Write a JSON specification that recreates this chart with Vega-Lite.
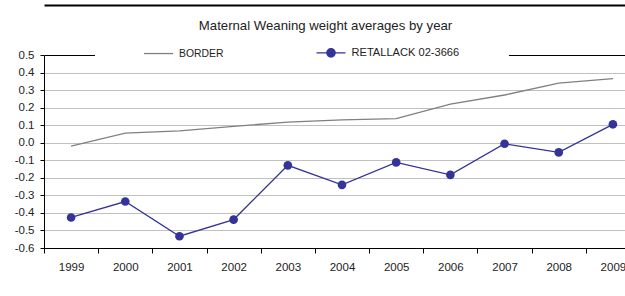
{
  "$schema": "https://vega.github.io/schema/vega-lite/v6.json",
  "width": 581,
  "height": 193,
  "autosize": {"type": "none"},
  "padding": {"left": 44, "top": 55, "right": 0, "bottom": 48},
  "background": "white",
  "title": {
    "text": "Maternal Weaning weight averages by year",
    "font": "Liberation Sans, Arial, sans-serif",
    "fontSize": 13.2,
    "fontWeight": "normal",
    "color": "#222222",
    "anchor": "middle",
    "dx": -9,
    "dy": 32
  },
  "data": {
    "values": [
      {"year": "1999", "series": "BORDER", "value": -0.02},
      {"year": "2000", "series": "BORDER", "value": 0.055},
      {"year": "2001", "series": "BORDER", "value": 0.068},
      {"year": "2002", "series": "BORDER", "value": 0.093},
      {"year": "2003", "series": "BORDER", "value": 0.118},
      {"year": "2004", "series": "BORDER", "value": 0.13},
      {"year": "2005", "series": "BORDER", "value": 0.137},
      {"year": "2006", "series": "BORDER", "value": 0.22},
      {"year": "2007", "series": "BORDER", "value": 0.272},
      {"year": "2008", "series": "BORDER", "value": 0.34},
      {"year": "2009", "series": "BORDER", "value": 0.365},
      {"year": "1999", "series": "RETALLACK 02-3666", "value": -0.426},
      {"year": "2000", "series": "RETALLACK 02-3666", "value": -0.335},
      {"year": "2001", "series": "RETALLACK 02-3666", "value": -0.533},
      {"year": "2002", "series": "RETALLACK 02-3666", "value": -0.438},
      {"year": "2003", "series": "RETALLACK 02-3666", "value": -0.129},
      {"year": "2004", "series": "RETALLACK 02-3666", "value": -0.24},
      {"year": "2005", "series": "RETALLACK 02-3666", "value": -0.112},
      {"year": "2006", "series": "RETALLACK 02-3666", "value": -0.183},
      {"year": "2007", "series": "RETALLACK 02-3666", "value": -0.006},
      {"year": "2008", "series": "RETALLACK 02-3666", "value": -0.055},
      {"year": "2009", "series": "RETALLACK 02-3666", "value": 0.105}
    ]
  },
  "encoding": {
    "x": {
      "field": "year",
      "type": "ordinal",
      "bandPosition": 0.5,
      "scale": {"type": "band", "paddingInner": 0, "paddingOuter": 0, "range": [0, 596]}
    },
    "y": {
      "field": "value",
      "type": "quantitative",
      "scale": {"domain": [-0.6, 0.5], "nice": false, "zero": false},
      "axis": {
        "title": null,
        "values": [-0.6, -0.5, -0.4, -0.3, -0.2, -0.1, 0, 0.1, 0.2, 0.3, 0.4, 0.5],
        "format": ".1f",
        "labelExpr": "replace(datum.label, '\u2212', '-')",
        "domainColor": "#000000",
        "domainWidth": 1,
        "tickColor": "#000000",
        "tickSize": 4,
        "labelFont": "Liberation Sans, Arial, sans-serif",
        "labelFontSize": 11.5,
        "labelColor": "#222222",
        "labelPadding": 6,
        "grid": true,
        "gridColor": {"condition": {"test": "datum.value === 0.5", "value": "#000000"}, "value": "#c0c0c0"},
        "gridWidth": 1
      }
    }
  },
  "layer": [
    {
      "mark": {"type": "line", "strokeWidth": 1.3},
      "encoding": {
        "color": {
          "field": "series",
          "type": "nominal",
          "scale": {"domain": ["BORDER", "RETALLACK 02-3666"], "range": ["#808080", "#333399"]},
          "legend": {
            "title": null,
            "orient": "none",
            "direction": "horizontal",
            "legendX": 51,
            "legendY": -24,
            "padding": 6,
            "symbolOffset": 42,
            "fillColor": "white",
            "symbolSize": 841,
            "symbolStrokeWidth": 1.3,
            "labelOffset": 5,
            "columnPadding": 49.5,
            "labelFont": "Liberation Sans, Arial, sans-serif",
            "labelFontSize": 11,
            "labelColor": "#222222",
            "encode": {
              "symbols": {
                "update": {
                  "shape": {"signal": "datum.value === 'BORDER' ? 'M-1,0H1' : 'M-1,0H1M-0.29,0A0.29,0.29,0,1,1,0.29,0A0.29,0.29,0,1,1,-0.29,0ZM11.65,0'"},
                  "fill": {"signal": "datum.value === 'BORDER' ? 'transparent' : '#333399'"}
                }
              },
              "labels": {
                "update": {
                  "fontSize": {"signal": "datum.value === 'BORDER' ? 10.4 : 11.1"}
                }
              }
            }
          }
        },
        "x": {
          "field": "year",
          "type": "ordinal",
          "bandPosition": 0.5,
          "axis": {
            "orient": "bottom",
            "title": null,
            "labelAngle": 0,
            "tickBand": "extent",
            "domainColor": "#000000",
            "tickColor": "#000000",
            "tickSize": 5,
            "labelFont": "Liberation Sans, Arial, sans-serif",
            "labelFontSize": 11.5,
            "labelColor": "#222222",
            "labelPadding": 8.5,
            "grid": false
          }
        }
      }
    },
    {
      "transform": [{"filter": "datum.series === 'RETALLACK 02-3666'"}],
      "mark": {"type": "point", "filled": true, "size": 75, "opacity": 1, "color": "#333399"},
      "encoding": {
        "x": {
          "field": "year",
          "type": "ordinal",
          "bandPosition": 0.5,
          "axis": {
            "orient": "top",
            "title": null,
            "labels": false,
            "ticks": false,
            "grid": false,
            "domain": true,
            "domainColor": "#000000",
            "domainWidth": 2,
            "offset": 50
          }
        }
      }
    }
  ],
  "resolve": {"axis": {"x": "independent"}},
  "config": {
    "view": {"stroke": null},
    "axis": {"labelFlush": false, "labelOverlap": false}
  }
}
